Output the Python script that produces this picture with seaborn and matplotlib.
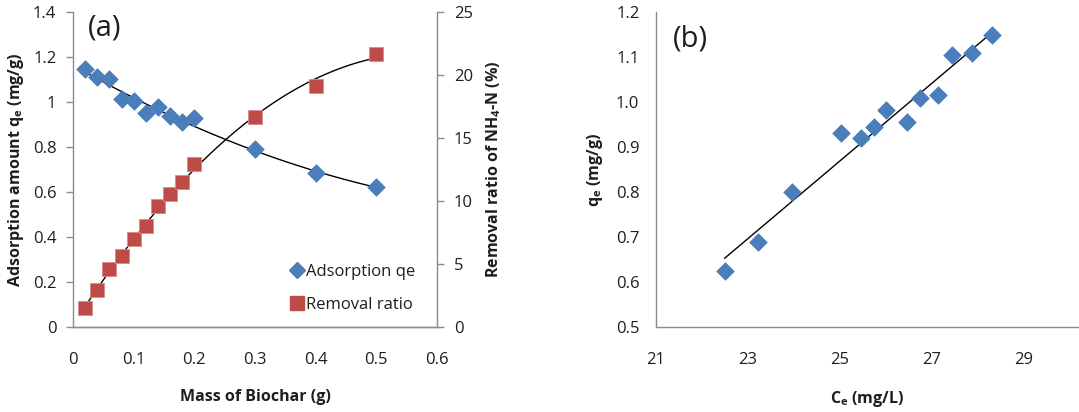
import numpy as np
import pandas as pd
import matplotlib
matplotlib.use("Agg")
import matplotlib.pyplot as plt
import seaborn as sns
from matplotlib.lines import Line2D

sns.set_style("white")
plt.rcParams['font.family'] = ['Open Sans', 'DejaVu Sans']
plt.rcParams['mathtext.fontset'] = 'custom'
plt.rcParams['mathtext.rm'] = 'Open Sans'
plt.rcParams['mathtext.bf'] = 'Open Sans:bold'
plt.rcParams['mathtext.default'] = 'regular'

# ---- data panel (a) ----
mass = [0.02, 0.04, 0.06, 0.08, 0.10, 0.12, 0.14, 0.16, 0.18, 0.20, 0.30, 0.40, 0.50]
qe_a = [1.148, 1.111, 1.102, 1.013, 1.007, 0.951, 0.978, 0.939, 0.913, 0.929, 0.793, 0.684, 0.621]
removal = [1.48, 2.96, 4.60, 5.66, 6.98, 7.99, 9.58, 10.56, 11.48, 12.94, 16.67, 19.18, 21.69]

# ---- data panel (b) ----
ce_b = [22.49, 23.22, 23.95, 25.02, 25.45, 25.74, 25.99, 26.45, 26.74, 27.14, 27.44, 27.88, 28.30]
qe_b = [0.625, 0.688, 0.801, 0.931, 0.920, 0.944, 0.983, 0.957, 1.009, 1.015, 1.105, 1.110, 1.150]

xticks_a = [0, 0.1, 0.2, 0.3, 0.4, 0.5, 0.6]
xtl_a = ['0', '0.1', '0.2', '0.3', '0.4', '0.5', '0.6']
yticks_a = [0, 0.2, 0.4, 0.6, 0.8, 1.0, 1.2, 1.4]
ytl_a = ['0', '0.2', '0.4', '0.6', '0.8', '1', '1.2', '1.4']
y2ticks_a = [0, 5, 10, 15, 20, 25]
xticks_b = [21, 23, 25, 27, 29]
yticks_b = [0.5, 0.6, 0.7, 0.8, 0.9, 1.0, 1.1, 1.2]
ytl_b = ['0.5', '0.6', '0.7', '0.8', '0.9', '1.0', '1.1', '1.2']

BLUE = '#4A7EBB'
RED = '#BE4B48'
GRAY = '#8C8C8C'
TXT = '#1E1E1E'
FS = 12
LFS = 11.5

W, H = 1079, 412
fig = plt.figure(figsize=(W / 100, H / 100), dpi=100)

def ax_rect(l, r, t, b):
    return [l / W, 1 - b / H, (r - l) / W, (b - t) / H]

dfa = pd.DataFrame({'mass': mass, 'qe': qe_a, 'removal': removal})
dfb = pd.DataFrame({'ce': ce_b, 'qe': qe_b})

# ---------------- panel (a) ----------------
ax = fig.add_axes(ax_rect(73, 437, 12.3, 327))
ax2 = ax.twinx()
sns.regplot(data=dfa, x='mass', y='qe', order=2, ci=None, scatter=False, truncate=True,
            ax=ax, line_kws=dict(color='black', lw=1))
sns.scatterplot(data=dfa, x='mass', y='qe', marker='D', s=80, color=BLUE, edgecolor=BLUE,
                linewidth=0.5, ax=ax, zorder=3)
sns.regplot(data=dfa, x='mass', y='removal', order=2, ci=None, scatter=False, truncate=True,
            ax=ax2, line_kws=dict(color='black', lw=1))
sns.scatterplot(data=dfa, x='mass', y='removal', marker='s', s=110, color=RED, edgecolor='#D88A88',
                linewidth=0.6, ax=ax2, zorder=3)

ax.set_xlim(0, 0.6)
ax.set_ylim(0, 1.4)
ax2.set_ylim(0, 25)
ax.set_xticks(xticks_a, xtl_a)
ax.set_yticks(yticks_a, ytl_a)
ax2.set_yticks(y2ticks_a, [str(v) for v in y2ticks_a])

for a in (ax, ax2):
    for s in a.spines.values():
        s.set_color(GRAY)
        s.set_linewidth(1)
    a.spines['top'].set_visible(False)
    a.tick_params(colors=GRAY, labelcolor=TXT, labelsize=FS, length=5, width=1, direction='out')
ax.tick_params(axis='x', pad=13)
ax.tick_params(axis='y', pad=7)
ax2.tick_params(axis='y', pad=7)
ax2.spines['left'].set_visible(False)
ax.spines['right'].set_visible(False)

ax.set_xlabel('Mass of Biochar (g)', fontsize=LFS, fontweight='bold', color=TXT, labelpad=15)
ax.set_ylabel('Adsorption amount q$_{e}$ (mg/g)', fontsize=LFS, fontweight='bold', color=TXT)
ax.yaxis.set_label_coords(-0.128, 0.5)
ax2.set_ylabel('Removal ratio of NH$_{4}$-N (%)', fontsize=LFS, fontweight='bold', color=TXT, labelpad=8)
ax.text(0.04, 0.995, '(a)', transform=ax.transAxes, fontsize=21, color=TXT, va='top', ha='left')

handles = [Line2D([], [], marker='D', color=BLUE, ls='none', markersize=8),
           Line2D([], [], marker='s', color=RED, ls='none', markersize=10)]
ax2.legend(handles, ['Adsorption qe', 'Removal ratio'], loc='center left', frameon=False,
           fontsize=FS, handletextpad=0.05, labelspacing=1.05, bbox_to_anchor=(0.592, 0.123),
           handlelength=1.0, labelcolor=TXT, borderpad=0, borderaxespad=0)

# ---------------- panel (b) ----------------
bx = fig.add_axes(ax_rect(656, 1079, 12.3, 327))
sns.regplot(data=dfb, x='ce', y='qe', order=1, ci=None, scatter=False, truncate=True,
            ax=bx, line_kws=dict(color='black', lw=1))
sns.scatterplot(data=dfb, x='ce', y='qe', marker='D', s=80, color=BLUE, edgecolor=BLUE,
                linewidth=0.5, ax=bx, zorder=3)
bx.set_xlim(21, 21 + (1079 - 656) / 46.0)
bx.set_ylim(0.5, 1.2)
bx.set_xticks(xticks_b, [str(v) for v in xticks_b])
bx.set_yticks(yticks_b, ytl_b)
for s in bx.spines.values():
    s.set_color(GRAY)
    s.set_linewidth(1)
bx.spines['top'].set_visible(False)
bx.spines['right'].set_visible(False)
bx.tick_params(colors=GRAY, labelcolor=TXT, labelsize=FS, length=5, width=1, direction='out')
bx.tick_params(axis='x', pad=13)
bx.tick_params(axis='y', pad=7)
bx.set_xlabel('C$_{e}$ (mg/L)', fontsize=LFS, fontweight='bold', color=TXT, labelpad=15)
bx.set_ylabel('q$_{e}$ (mg/g)', fontsize=LFS, fontweight='bold', color=TXT, labelpad=8)
bx.text(0.04, 0.96, '(b)', transform=bx.transAxes, fontsize=21, color=TXT, va='top', ha='left')

fig.savefig('out.png', dpi=100)
